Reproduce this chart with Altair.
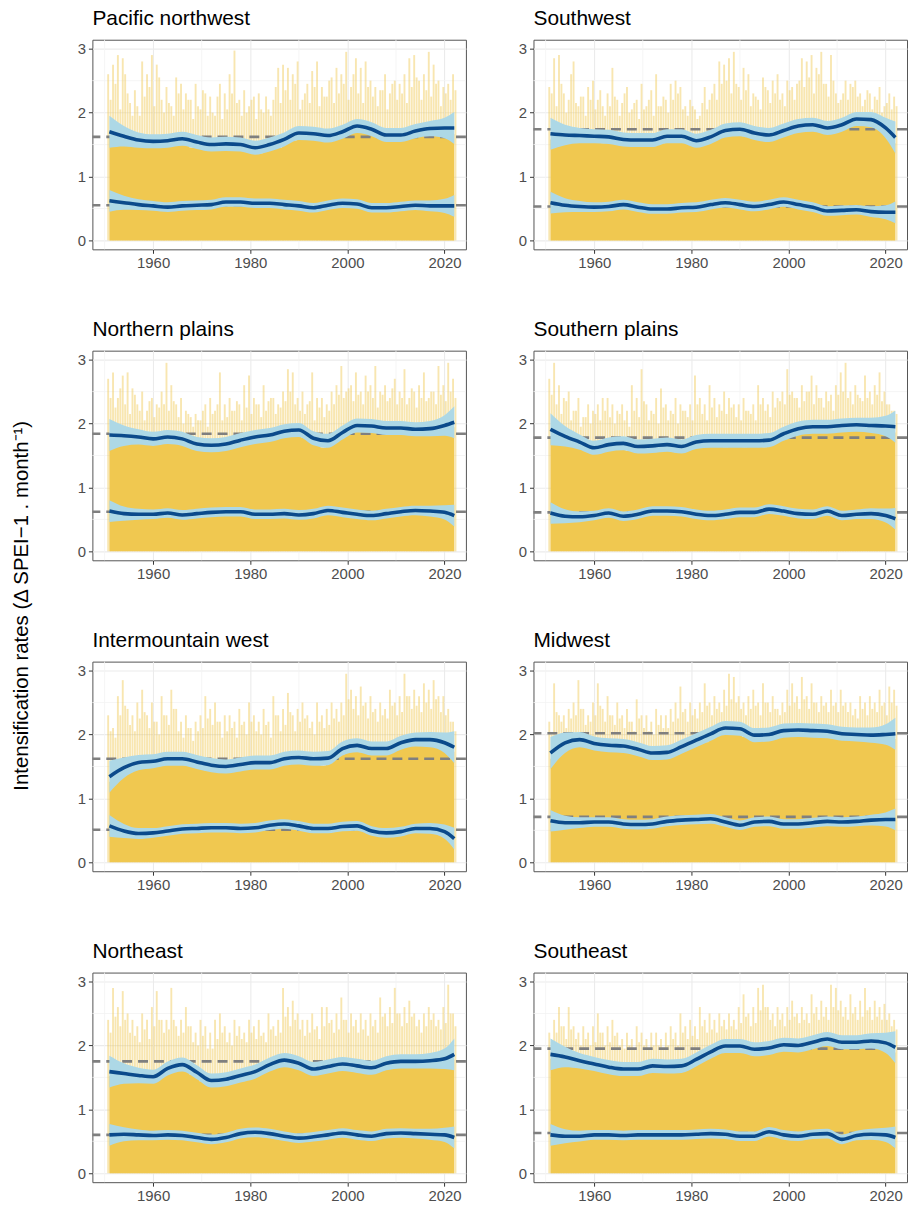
import altair as alt
import pandas as pd

FONT = "Liberation Sans"
YELLOW = "#F0C850"
BAND = "#ADD8E6"
BLUE = "#0B4A8B"
DASH = "#7F7F7F"

Y_TITLE = "Intensification rates (\u0394 SPEI\u22121 . month\u207b\u00b9)"

# Monthly record years and the years at which the smooth curves are listed
YEARS = list(range(1951, 2023))
SMOOTH_YEARS = [1951, 1954, 1957, 1960, 1963, 1966, 1969, 1972, 1975, 1978, 1981, 1984,
                1987, 1990, 1993, 1996, 1999, 2002, 2005, 2008, 2011, 2014, 2017, 2020, 2022]

# Half-width of the confidence ribbons at SMOOTH_YEARS
UPPER_SE = [0.25, 0.16, 0.12, 0.11, 0.11, 0.11, 0.11, 0.11, 0.11, 0.11, 0.11, 0.11, 0.11,
            0.11, 0.11, 0.11, 0.11, 0.11, 0.11, 0.11, 0.11, 0.11, 0.12, 0.16, 0.25]
LOWER_SE = [0.17, 0.11, 0.085, 0.075, 0.075, 0.075, 0.075, 0.075, 0.075, 0.075, 0.075, 0.075,
            0.075, 0.075, 0.075, 0.075, 0.075, 0.075, 0.075, 0.075, 0.075, 0.075, 0.085, 0.11, 0.17]

X_MAJOR = [1960, 1980, 2000, 2020]
X_MINOR = [1950, 1970, 1990, 2010]
Y_MAJOR = [0, 1, 2, 3]
Y_MINOR = [0.5, 1.5, 2.5]

# Per region: first-half-year maxima (H1), second-half-year maxima (H2),
# dense core level (CORE), smoothed upper and lower rates, and the two means.

# ---- Pacific northwest
PNW_H1 = [2.60, 2.75, 2.90, 2.85, 2.30, 1.95, 2.10, 2.80, 2.60, 2.90, 2.75, 2.20,
          2.40, 2.10, 2.55, 2.45, 2.30, 2.20, 2.45, 2.05, 2.30, 2.25, 1.95, 2.45,
          2.30, 2.60, 2.97, 2.20, 2.35, 2.10, 2.25, 2.30, 2.00, 2.05, 2.20, 2.70,
          2.75, 2.70, 2.60, 2.80, 2.20, 2.45, 2.65, 2.80, 2.40, 2.25, 2.55, 2.70,
          2.60, 2.95, 2.40, 2.85, 2.70, 2.80, 2.50, 2.40, 2.35, 2.60, 2.30, 2.50,
          2.45, 2.60, 2.85, 2.90, 2.50, 2.60, 2.95, 2.75, 2.50, 2.40, 2.45, 2.60]
PNW_H2 = [2.20, 2.45, 2.05, 2.60, 2.15, 2.35, 1.95, 2.25, 2.40, 2.10, 2.55, 2.00,
          2.15, 1.95, 2.30, 2.05, 2.20, 1.90, 2.10, 2.35, 1.95, 2.00, 2.25, 1.90,
          2.05, 2.30, 2.15, 1.95, 2.00, 2.20, 1.90, 2.05, 2.25, 1.95, 2.40, 2.15,
          2.35, 2.20, 2.45, 2.05, 2.30, 2.15, 2.40, 2.10, 2.25, 2.50, 2.15, 2.30,
          2.45, 2.20, 2.60, 2.30, 2.15, 2.40, 2.25, 2.10, 2.35, 2.05, 2.45, 2.20,
          2.30, 2.15, 2.40, 2.55, 2.20, 2.35, 2.25, 2.45, 2.10, 2.30, 2.20, 2.35]
PNW_CORE = [1.60, 1.62, 1.56, 1.55, 1.52, 1.54, 1.48, 1.50, 1.46, 1.48, 1.45, 1.50,
            1.47, 1.50, 1.52, 1.50, 1.49, 1.45, 1.47, 1.43, 1.44, 1.40, 1.43, 1.42,
            1.44, 1.42, 1.45, 1.41, 1.40, 1.37, 1.38, 1.36, 1.40, 1.41, 1.46, 1.45,
            1.50, 1.55, 1.56, 1.60, 1.62, 1.58, 1.60, 1.56, 1.57, 1.55, 1.58, 1.60,
            1.62, 1.66, 1.68, 1.72, 1.70, 1.68, 1.66, 1.62, 1.60, 1.56, 1.57, 1.55,
            1.58, 1.58, 1.62, 1.62, 1.66, 1.65, 1.68, 1.66, 1.69, 1.67, 1.68, 1.66]
PNW_UPPER = [1.70, 1.63, 1.57, 1.55, 1.56, 1.59, 1.54, 1.50, 1.51, 1.50, 1.45, 1.50, 1.58,
             1.68, 1.67, 1.64, 1.70, 1.79, 1.74, 1.65, 1.65, 1.71, 1.75, 1.76, 1.76]
PNW_LOWER = [0.62, 0.59, 0.56, 0.54, 0.52, 0.54, 0.55, 0.56, 0.60, 0.60, 0.58, 0.58, 0.56,
             0.54, 0.51, 0.55, 0.58, 0.57, 0.51, 0.51, 0.53, 0.55, 0.54, 0.54, 0.54]
PNW_MEANS = [1.62, 0.55]

# ---- Southwest
SW_H1 = [2.40, 2.85, 2.90, 2.30, 2.20, 2.80, 2.10, 2.25, 2.40, 2.50, 2.20, 2.10,
         2.30, 2.70, 2.20, 2.15, 2.40, 2.05, 2.20, 2.45, 2.10, 2.35, 2.60, 2.10,
         2.20, 2.45, 2.50, 2.40, 2.10, 2.20, 2.05, 1.95, 2.40, 2.20, 2.45, 2.80,
         2.75, 2.85, 2.95, 2.40, 2.70, 2.60, 2.30, 2.20, 2.55, 2.35, 2.50, 2.60,
         2.30, 2.50, 2.40, 2.45, 2.85, 2.80, 2.90, 2.70, 2.95, 2.45, 2.90, 2.30,
         2.20, 2.50, 2.45, 2.50, 2.30, 2.20, 2.30, 2.25, 2.40, 2.10, 2.30, 2.25]
SW_H2 = [2.30, 2.10, 2.45, 2.00, 2.60, 2.15, 2.25, 1.95, 2.20, 2.05, 2.35, 1.95,
         2.10, 2.25, 1.95, 2.30, 2.00, 2.15, 1.90, 2.05, 2.20, 1.95, 2.10, 2.25,
         2.00, 2.20, 2.30, 2.05, 1.95, 2.10, 1.90, 2.15, 2.05, 2.30, 2.20, 2.45,
         2.50, 2.30, 2.45, 2.20, 2.35, 2.10, 2.25, 2.05, 2.40, 2.15, 2.30, 2.20,
         2.10, 2.35, 2.20, 2.50, 2.40, 2.55, 2.30, 2.60, 2.45, 2.25, 2.50, 2.15,
         2.30, 2.20, 2.40, 2.25, 2.10, 2.35, 2.05, 2.20, 2.00, 2.15, 2.05, 2.10]
SW_CORE = [1.58, 1.60, 1.57, 1.58, 1.55, 1.58, 1.54, 1.57, 1.53, 1.56, 1.54, 1.52,
           1.55, 1.51, 1.52, 1.49, 1.52, 1.48, 1.50, 1.47, 1.50, 1.48, 1.52, 1.52,
           1.56, 1.57, 1.58, 1.54, 1.53, 1.50, 1.48, 1.49, 1.50, 1.55, 1.57, 1.62,
           1.64, 1.68, 1.65, 1.67, 1.63, 1.64, 1.60, 1.59, 1.57, 1.58, 1.58, 1.63,
           1.64, 1.68, 1.69, 1.72, 1.72, 1.75, 1.73, 1.72, 1.69, 1.70, 1.69, 1.72,
           1.73, 1.78, 1.80, 1.84, 1.83, 1.84, 1.80, 1.78, 1.72, 1.68, 1.60, 1.52]
SW_UPPER = [1.67, 1.65, 1.64, 1.63, 1.62, 1.58, 1.57, 1.57, 1.63, 1.63, 1.56, 1.62, 1.72,
            1.74, 1.68, 1.65, 1.72, 1.79, 1.81, 1.76, 1.81, 1.90, 1.89, 1.76, 1.61]
SW_LOWER = [0.59, 0.55, 0.53, 0.52, 0.53, 0.56, 0.52, 0.49, 0.49, 0.51, 0.52, 0.56, 0.59,
            0.56, 0.53, 0.56, 0.60, 0.56, 0.52, 0.46, 0.47, 0.48, 0.45, 0.44, 0.44]
SW_MEANS = [1.74, 0.53]

# ---- Northern plains
NP_H1 = [2.70, 2.80, 2.40, 2.75, 2.80, 2.55, 2.30, 2.50, 2.20, 2.40, 2.30, 2.50,
         2.95, 2.60, 2.30, 2.40, 2.20, 2.10, 2.15, 2.05, 2.30, 2.40, 2.20, 2.80,
         2.30, 2.40, 2.20, 2.30, 2.60, 2.75, 2.40, 2.30, 2.60, 2.35, 2.40, 2.30,
         2.50, 2.85, 2.80, 2.40, 2.50, 2.30, 2.80, 2.40, 2.40, 2.30, 2.50, 2.60,
         2.90, 2.50, 2.60, 2.80, 2.50, 2.75, 2.60, 2.90, 2.50, 2.60, 2.40, 2.70,
         2.50, 2.85, 2.40, 2.50, 2.60, 2.80, 2.40, 2.50, 2.90, 2.60, 2.95, 2.70]
NP_H2 = [2.40, 2.25, 2.55, 2.30, 2.15, 2.45, 2.20, 2.05, 2.35, 2.10, 2.25, 2.30,
         2.20, 2.35, 2.10, 2.00, 2.15, 1.95, 2.05, 2.20, 1.95, 2.15, 2.30, 2.05,
         2.10, 2.20, 2.35, 2.05, 2.25, 2.15, 2.30, 2.10, 2.20, 2.40, 2.15, 2.25,
         2.35, 2.50, 2.30, 2.20, 2.15, 2.35, 2.05, 2.25, 2.10, 2.20, 2.30, 2.45,
         2.40, 2.55, 2.35, 2.45, 2.30, 2.50, 2.40, 2.25, 2.45, 2.35, 2.55, 2.30,
         2.40, 2.30, 2.55, 2.25, 2.40, 2.35, 2.50, 2.30, 2.45, 2.35, 2.50, 2.40]
NP_CORE = [1.75, 1.73, 1.76, 1.72, 1.74, 1.71, 1.73, 1.70, 1.71, 1.68, 1.70, 1.73,
           1.71, 1.72, 1.69, 1.70, 1.65, 1.63, 1.60, 1.61, 1.58, 1.60, 1.57, 1.61,
           1.60, 1.64, 1.63, 1.68, 1.67, 1.72, 1.70, 1.74, 1.72, 1.76, 1.75, 1.80,
           1.80, 1.84, 1.83, 1.85, 1.78, 1.75, 1.69, 1.67, 1.62, 1.66, 1.68, 1.75,
           1.78, 1.85, 1.86, 1.91, 1.89, 1.91, 1.87, 1.88, 1.85, 1.87, 1.86, 1.87,
           1.85, 1.86, 1.83, 1.85, 1.83, 1.85, 1.84, 1.87, 1.86, 1.90, 1.90, 1.94]
NP_UPPER = [1.82, 1.81, 1.79, 1.76, 1.79, 1.76, 1.68, 1.66, 1.68, 1.74, 1.79, 1.82, 1.88,
            1.90, 1.77, 1.73, 1.86, 1.97, 1.96, 1.93, 1.93, 1.91, 1.92, 1.97, 2.02]
NP_LOWER = [0.63, 0.59, 0.58, 0.58, 0.60, 0.57, 0.59, 0.61, 0.62, 0.62, 0.58, 0.58, 0.59,
            0.57, 0.59, 0.64, 0.61, 0.58, 0.56, 0.59, 0.62, 0.64, 0.63, 0.61, 0.56]
NP_MEANS = [1.84, 0.62]

# ---- Southern plains
SP_H1 = [2.70, 2.95, 2.60, 2.40, 2.50, 2.20, 2.40, 2.10, 2.30, 2.20, 2.30, 2.40,
         2.40, 2.30, 2.20, 2.30, 2.20, 2.60, 2.40, 2.85, 2.30, 2.20, 2.40, 2.55,
         2.30, 2.20, 2.40, 2.30, 2.20, 2.30, 2.75, 2.40, 2.30, 2.60, 2.40, 2.30,
         2.50, 2.40, 2.30, 2.30, 2.40, 2.20, 2.30, 2.60, 2.40, 2.30, 2.50, 2.40,
         2.50, 2.85, 2.50, 2.40, 2.60, 2.50, 2.75, 2.60, 2.40, 2.50, 2.45, 2.60,
         2.80, 2.95, 2.50, 2.60, 2.40, 2.75, 2.50, 2.60, 2.80, 2.50, 2.30, 2.20]
SP_H2 = [2.45, 2.30, 2.15, 2.35, 2.05, 2.20, 1.95, 2.10, 2.00, 2.15, 2.05, 2.20,
         2.10, 2.00, 2.15, 2.05, 1.95, 2.20, 2.10, 2.35, 2.05, 2.15, 2.00, 2.25,
         2.05, 2.15, 2.00, 2.20, 2.10, 2.05, 2.30, 2.15, 2.05, 2.25, 2.10, 2.20,
         2.15, 2.25, 2.10, 2.05, 2.20, 2.15, 2.05, 2.30, 2.20, 2.10, 2.25, 2.35,
         2.30, 2.45, 2.40, 2.25, 2.35, 2.50, 2.30, 2.40, 2.25, 2.35, 2.20, 2.45,
         2.50, 2.40, 2.30, 2.45, 2.35, 2.40, 2.30, 2.45, 2.35, 2.30, 2.20, 2.15]
SP_CORE = [1.80, 1.79, 1.74, 1.73, 1.68, 1.67, 1.62, 1.60, 1.55, 1.56, 1.55, 1.59,
           1.58, 1.62, 1.61, 1.62, 1.57, 1.58, 1.55, 1.57, 1.56, 1.59, 1.57, 1.60,
           1.58, 1.59, 1.55, 1.57, 1.58, 1.62, 1.62, 1.65, 1.64, 1.66, 1.64, 1.66,
           1.63, 1.66, 1.64, 1.66, 1.63, 1.65, 1.64, 1.66, 1.63, 1.67, 1.69, 1.73,
           1.75, 1.80, 1.81, 1.85, 1.86, 1.88, 1.87, 1.86, 1.87, 1.88, 1.88, 1.90,
           1.89, 1.91, 1.90, 1.91, 1.89, 1.90, 1.89, 1.90, 1.88, 1.89, 1.87, 1.86]
SP_UPPER = [1.91, 1.80, 1.71, 1.62, 1.67, 1.69, 1.64, 1.65, 1.67, 1.64, 1.71, 1.73, 1.73,
            1.73, 1.73, 1.74, 1.84, 1.92, 1.95, 1.95, 1.97, 1.98, 1.97, 1.96, 1.95]
SP_LOWER = [0.60, 0.55, 0.54, 0.56, 0.60, 0.55, 0.58, 0.63, 0.63, 0.62, 0.58, 0.56, 0.58,
            0.61, 0.61, 0.66, 0.63, 0.59, 0.58, 0.63, 0.56, 0.58, 0.59, 0.56, 0.51]
SP_MEANS = [1.78, 0.61]

# ---- Intermountain west
IW_H1 = [2.30, 2.10, 2.60, 2.85, 2.40, 2.30, 2.50, 2.70, 2.30, 2.50, 2.20, 2.60,
         2.30, 2.70, 2.40, 2.20, 2.30, 2.10, 2.20, 2.30, 2.60, 2.40, 2.50, 2.20,
         2.30, 2.30, 2.20, 2.40, 2.20, 2.50, 2.30, 2.20, 2.40, 2.20, 2.60, 2.30,
         2.40, 2.65, 2.30, 2.40, 2.50, 2.30, 2.20, 2.50, 2.30, 2.40, 2.50, 2.40,
         2.50, 2.95, 2.70, 2.60, 2.75, 2.50, 2.60, 2.40, 2.50, 2.40, 2.70, 2.50,
         2.60, 2.95, 2.60, 2.70, 2.60, 2.80, 2.70, 2.85, 2.60, 2.60, 2.40, 2.20]
IW_H2 = [2.05, 1.95, 2.30, 2.45, 2.15, 2.05, 2.25, 2.35, 2.10, 2.20, 2.00, 2.30,
         2.15, 2.40, 2.05, 1.95, 2.10, 1.90, 2.05, 2.10, 2.25, 2.15, 2.20, 1.95,
         2.05, 2.10, 1.95, 2.15, 2.00, 2.20, 2.05, 2.00, 2.15, 1.95, 2.30, 2.05,
         2.15, 2.35, 2.05, 2.20, 2.25, 2.10, 2.00, 2.20, 2.10, 2.15, 2.25, 2.20,
         2.30, 2.55, 2.40, 2.30, 2.45, 2.25, 2.35, 2.20, 2.30, 2.25, 2.45, 2.30,
         2.35, 2.60, 2.40, 2.45, 2.35, 2.50, 2.40, 2.55, 2.35, 2.30, 2.20, 2.05]
IW_CORE = [1.26, 1.32, 1.35, 1.41, 1.43, 1.47, 1.48, 1.50, 1.49, 1.52, 1.51, 1.54,
           1.53, 1.56, 1.54, 1.55, 1.51, 1.51, 1.48, 1.48, 1.44, 1.45, 1.42, 1.44,
           1.42, 1.45, 1.43, 1.47, 1.45, 1.49, 1.47, 1.50, 1.47, 1.50, 1.49, 1.54,
           1.53, 1.57, 1.55, 1.58, 1.54, 1.56, 1.53, 1.55, 1.51, 1.56, 1.61, 1.68,
           1.69, 1.75, 1.74, 1.77, 1.72, 1.73, 1.69, 1.70, 1.68, 1.72, 1.72, 1.78,
           1.78, 1.83, 1.82, 1.86, 1.84, 1.87, 1.83, 1.85, 1.80, 1.81, 1.75, 1.73]
IW_UPPER = [1.34, 1.48, 1.56, 1.58, 1.62, 1.62, 1.57, 1.52, 1.50, 1.53, 1.56, 1.56, 1.62,
            1.64, 1.62, 1.63, 1.78, 1.83, 1.78, 1.78, 1.87, 1.92, 1.92, 1.87, 1.80]
IW_LOWER = [0.57, 0.49, 0.45, 0.46, 0.49, 0.52, 0.53, 0.54, 0.54, 0.53, 0.54, 0.58, 0.60,
            0.57, 0.53, 0.53, 0.56, 0.57, 0.49, 0.46, 0.48, 0.53, 0.53, 0.48, 0.37]
IW_MEANS = [1.62, 0.51]

# ---- Midwest
MW_H1 = [2.20, 2.80, 2.30, 2.30, 2.40, 2.50, 2.85, 2.40, 2.30, 2.50, 2.80, 2.40,
         2.60, 2.30, 2.50, 2.30, 2.40, 2.20, 2.55, 2.30, 2.30, 2.20, 2.40, 2.30,
         2.30, 2.40, 2.50, 2.75, 2.40, 2.50, 2.40, 2.50, 2.80, 2.50, 2.60, 2.50,
         2.70, 2.95, 2.90, 2.60, 2.50, 2.60, 2.70, 2.50, 2.80, 2.50, 2.60, 2.40,
         2.50, 2.70, 2.80, 2.60, 2.90, 2.60, 2.80, 2.50, 2.60, 2.50, 2.70, 2.50,
         2.70, 2.50, 2.50, 2.40, 2.60, 2.50, 2.60, 2.50, 2.70, 2.50, 2.75, 2.70]
MW_H2 = [2.00, 2.35, 2.20, 2.10, 2.25, 2.30, 2.40, 2.15, 2.20, 2.30, 2.45, 2.20,
         2.30, 2.15, 2.25, 2.10, 2.20, 2.05, 2.25, 2.10, 2.05, 2.00, 2.15, 2.10,
         2.10, 2.20, 2.25, 2.35, 2.20, 2.30, 2.25, 2.35, 2.45, 2.30, 2.40, 2.35,
         2.45, 2.55, 2.50, 2.40, 2.30, 2.40, 2.45, 2.30, 2.50, 2.35, 2.40, 2.30,
         2.35, 2.45, 2.50, 2.40, 2.55, 2.40, 2.50, 2.35, 2.45, 2.35, 2.45, 2.35,
         2.45, 2.35, 2.30, 2.25, 2.40, 2.30, 2.40, 2.35, 2.45, 2.30, 2.50, 2.45]
MW_CORE = [1.62, 1.70, 1.74, 1.80, 1.81, 1.85, 1.83, 1.84, 1.80, 1.80, 1.76, 1.78,
           1.74, 1.76, 1.73, 1.76, 1.71, 1.73, 1.68, 1.69, 1.64, 1.65, 1.62, 1.65,
           1.63, 1.68, 1.68, 1.75, 1.76, 1.82, 1.82, 1.88, 1.88, 1.95, 1.96, 2.02,
           2.01, 2.05, 2.01, 2.03, 1.96, 1.95, 1.90, 1.93, 1.90, 1.94, 1.93, 1.98,
           1.97, 2.01, 1.98, 2.01, 1.98, 2.00, 1.97, 2.00, 1.96, 1.99, 1.94, 1.96,
           1.92, 1.95, 1.91, 1.94, 1.90, 1.93, 1.90, 1.93, 1.91, 1.94, 1.91, 1.93]
MW_UPPER = [1.71, 1.87, 1.92, 1.86, 1.83, 1.82, 1.77, 1.71, 1.72, 1.81, 1.91, 2.01, 2.10,
            2.09, 1.99, 2.00, 2.06, 2.07, 2.06, 2.05, 2.01, 2.00, 1.99, 2.00, 2.01]
MW_LOWER = [0.65, 0.62, 0.62, 0.63, 0.63, 0.60, 0.59, 0.60, 0.64, 0.66, 0.67, 0.68, 0.63,
            0.58, 0.63, 0.64, 0.60, 0.60, 0.62, 0.64, 0.63, 0.64, 0.66, 0.67, 0.67]
MW_MEANS = [2.02, 0.71]

# ---- Northeast
NE_H1 = [2.40, 2.90, 2.60, 2.85, 2.50, 2.40, 2.30, 2.50, 2.40, 2.60, 2.85, 2.40,
         2.40, 2.90, 2.30, 2.40, 2.60, 2.30, 2.20, 2.40, 2.30, 2.20, 2.40, 2.50,
         2.30, 2.20, 2.40, 2.30, 2.20, 2.40, 2.30, 2.40, 2.20, 2.50, 2.30, 2.40,
         2.90, 2.60, 2.70, 2.50, 2.40, 2.40, 2.50, 2.30, 2.60, 2.60, 2.40, 2.50,
         2.75, 2.40, 2.50, 2.40, 2.50, 2.40, 2.50, 2.40, 2.75, 2.50, 2.60, 2.90,
         2.50, 2.60, 2.70, 2.50, 2.40, 2.50, 2.60, 2.50, 2.40, 2.60, 2.95, 2.50]
NE_H2 = [2.20, 2.45, 2.30, 2.40, 2.20, 2.15, 2.05, 2.25, 2.10, 2.30, 2.40, 2.20,
         2.25, 2.40, 2.15, 2.20, 2.30, 2.05, 2.00, 2.15, 1.95, 1.95, 2.10, 2.20,
         2.05, 2.00, 2.15, 2.10, 2.05, 2.20, 2.10, 2.15, 2.05, 2.25, 2.15, 2.20,
         2.45, 2.30, 2.40, 2.25, 2.15, 2.20, 2.25, 2.10, 2.30, 2.35, 2.20, 2.25,
         2.40, 2.20, 2.30, 2.20, 2.25, 2.15, 2.30, 2.20, 2.45, 2.30, 2.35, 2.50,
         2.30, 2.35, 2.45, 2.30, 2.20, 2.30, 2.40, 2.30, 2.25, 2.35, 2.50, 2.30]
NE_CORE = [1.52, 1.50, 1.51, 1.48, 1.49, 1.46, 1.47, 1.44, 1.45, 1.43, 1.48, 1.52,
           1.57, 1.60, 1.63, 1.62, 1.60, 1.54, 1.52, 1.44, 1.42, 1.37, 1.39, 1.38,
           1.41, 1.41, 1.45, 1.45, 1.49, 1.49, 1.53, 1.55, 1.60, 1.62, 1.67, 1.67,
           1.71, 1.68, 1.68, 1.64, 1.63, 1.58, 1.57, 1.56, 1.60, 1.59, 1.63, 1.62,
           1.65, 1.62, 1.63, 1.60, 1.61, 1.58, 1.59, 1.59, 1.64, 1.64, 1.67, 1.66,
           1.69, 1.67, 1.69, 1.67, 1.69, 1.68, 1.70, 1.69, 1.72, 1.71, 1.76, 1.78]
NE_UPPER = [1.59, 1.56, 1.53, 1.51, 1.64, 1.70, 1.58, 1.45, 1.47, 1.53, 1.59, 1.70, 1.77,
            1.72, 1.63, 1.67, 1.71, 1.68, 1.65, 1.72, 1.75, 1.75, 1.76, 1.79, 1.86]
NE_LOWER = [0.60, 0.61, 0.60, 0.59, 0.60, 0.59, 0.56, 0.53, 0.56, 0.62, 0.64, 0.62, 0.58,
            0.55, 0.57, 0.60, 0.63, 0.60, 0.58, 0.62, 0.63, 0.62, 0.61, 0.60, 0.56]
NE_MEANS = [1.75, 0.60]

# ---- Southeast
SE_H1 = [2.20, 2.40, 2.60, 2.30, 2.60, 2.30, 2.20, 2.30, 2.20, 2.30, 2.50, 2.20,
         2.30, 2.40, 2.20, 2.10, 2.20, 2.10, 2.30, 2.20, 2.10, 2.20, 2.20, 2.10,
         2.20, 2.30, 2.20, 2.50, 2.30, 2.40, 2.30, 2.60, 2.40, 2.50, 2.40, 2.50,
         2.40, 2.50, 2.40, 2.60, 2.80, 2.50, 2.60, 2.90, 2.95, 2.60, 2.50, 2.60,
         2.50, 2.60, 2.70, 2.50, 2.60, 2.50, 2.80, 2.60, 2.70, 2.60, 2.95, 2.90,
         2.70, 2.60, 2.80, 2.60, 2.70, 2.90, 2.60, 2.70, 2.60, 2.65, 2.50, 2.40]
SE_H2 = [2.05, 2.20, 2.30, 2.10, 2.25, 2.10, 2.00, 2.10, 2.00, 2.05, 2.20, 2.00,
         2.05, 2.15, 2.00, 1.95, 2.00, 1.95, 2.05, 2.00, 1.95, 2.00, 2.00, 1.95,
         2.00, 2.10, 2.00, 2.20, 2.10, 2.15, 2.10, 2.30, 2.20, 2.25, 2.20, 2.30,
         2.25, 2.30, 2.25, 2.35, 2.45, 2.30, 2.35, 2.55, 2.60, 2.40, 2.30, 2.40,
         2.30, 2.40, 2.45, 2.35, 2.40, 2.35, 2.50, 2.40, 2.45, 2.40, 2.60, 2.55,
         2.45, 2.40, 2.50, 2.40, 2.45, 2.55, 2.40, 2.45, 2.40, 2.40, 2.30, 2.25]
SE_CORE = [1.79, 1.76, 1.77, 1.73, 1.74, 1.70, 1.70, 1.66, 1.67, 1.63, 1.63, 1.60,
           1.60, 1.57, 1.58, 1.55, 1.56, 1.54, 1.57, 1.57, 1.61, 1.60, 1.62, 1.59,
           1.61, 1.59, 1.61, 1.60, 1.65, 1.66, 1.72, 1.74, 1.80, 1.82, 1.88, 1.89,
           1.93, 1.92, 1.94, 1.91, 1.91, 1.87, 1.88, 1.86, 1.89, 1.88, 1.92, 1.92,
           1.95, 1.93, 1.94, 1.92, 1.96, 1.96, 1.99, 1.99, 2.03, 2.02, 2.03, 1.99,
           1.99, 1.96, 1.98, 1.97, 2.00, 1.99, 2.01, 1.99, 2.00, 1.96, 1.95, 1.89]
SE_UPPER = [1.86, 1.82, 1.76, 1.71, 1.66, 1.63, 1.63, 1.68, 1.67, 1.68, 1.78, 1.90, 1.99,
            1.99, 1.94, 1.96, 2.01, 2.00, 2.05, 2.10, 2.05, 2.05, 2.07, 2.04, 1.97]
SE_LOWER = [0.60, 0.58, 0.58, 0.60, 0.60, 0.59, 0.60, 0.60, 0.60, 0.60, 0.61, 0.62, 0.61,
            0.58, 0.58, 0.65, 0.60, 0.58, 0.61, 0.62, 0.53, 0.59, 0.61, 0.60, 0.56]
SE_MEANS = [1.95, 0.63]

REGIONS = [
    ("Pacific northwest", PNW_H1, PNW_H2, PNW_CORE, PNW_UPPER, PNW_LOWER, PNW_MEANS),
    ("Southwest", SW_H1, SW_H2, SW_CORE, SW_UPPER, SW_LOWER, SW_MEANS),
    ("Northern plains", NP_H1, NP_H2, NP_CORE, NP_UPPER, NP_LOWER, NP_MEANS),
    ("Southern plains", SP_H1, SP_H2, SP_CORE, SP_UPPER, SP_LOWER, SP_MEANS),
    ("Intermountain west", IW_H1, IW_H2, IW_CORE, IW_UPPER, IW_LOWER, IW_MEANS),
    ("Midwest", MW_H1, MW_H2, MW_CORE, MW_UPPER, MW_LOWER, MW_MEANS),
    ("Northeast", NE_H1, NE_H2, NE_CORE, NE_UPPER, NE_LOWER, NE_MEANS),
    ("Southeast", SE_H1, SE_H2, SE_CORE, SE_UPPER, SE_LOWER, SE_MEANS),
]

PANEL_W = 376
PANEL_H = 211

x_scale = alt.Scale(domain=[1947.5, 2024.4], nice=False, zero=False)
y_scale = alt.Scale(domain=[-0.14, 3.14], nice=False, zero=False)
x_axis = alt.Axis(values=X_MAJOR, format="d", title=None, domain=False, grid=True,
                  gridColor="#EBEBEB", gridWidth=1.1, tickColor="#333333", tickSize=4,
                  labelColor="#4D4D4D", labelFont=FONT, labelFontSize=15, labelPadding=2)
y_axis = alt.Axis(values=Y_MAJOR, format="d", title=None, domain=False, grid=True,
                  gridColor="#EBEBEB", gridWidth=1.1, tickColor="#333333", tickSize=4,
                  labelColor="#4D4D4D", labelFont=FONT, labelFontSize=15, labelPadding=3)


def X(field):
    return alt.X(field, type="quantitative", scale=x_scale, axis=x_axis)


def Y(field):
    return alt.Y(field, type="quantitative", scale=y_scale, axis=y_axis)


def panel(name, h1, h2, core, upper, lower, means):
    yearly = pd.DataFrame({"year": YEARS, "h1": h1, "h2": h2, "core": core})
    smooth = pd.DataFrame({"year": SMOOTH_YEARS, "up": upper, "lo": lower,
                           "up_se": UPPER_SE, "lo_se": LOWER_SE})

    minor_x = alt.Chart(pd.DataFrame({"v": X_MINOR})).mark_rule(
        color="#F3F3F3", strokeWidth=0.8).encode(x=X("v"))
    minor_y = alt.Chart(pd.DataFrame({"v": Y_MINOR})).mark_rule(
        color="#F3F3F3", strokeWidth=0.8).encode(y=Y("v"))

    # half-year maxima rise well above the dense core of monthly rates
    spikes_h1 = alt.Chart(yearly).transform_calculate(t="datum.year - 0.25").mark_rule(
        color=YELLOW, opacity=0.45, strokeWidth=1.9).encode(
        x=X("t"), y=Y("h1"), y2=alt.datum(0))
    spikes_h2 = alt.Chart(yearly).transform_calculate(t="datum.year + 0.25").mark_rule(
        color=YELLOW, opacity=0.45, strokeWidth=1.9).encode(
        x=X("t"), y=Y("h2"), y2=alt.datum(0))

    core_area = alt.Chart(yearly).mark_area(
        color=YELLOW, opacity=1, interpolate="step").encode(
        x=X("year"), y=Y("core"), y2=alt.datum(0))

    mean_lines = alt.Chart(pd.DataFrame({"m": means})).mark_rule(
        color=DASH, strokeDash=[10, 6], strokeWidth=2.6).encode(y=Y("m"))

    ribbons = []
    for key, se in (("up", "up_se"), ("lo", "lo_se")):
        base = alt.Chart(smooth).transform_calculate(
            ymin=f"datum.{key} - datum.{se}", ymax=f"datum.{key} + datum.{se}")
        ribbons.append(base.mark_area(color=BAND, opacity=1, interpolate="monotone").encode(
            x=X("year"), y=Y("ymin"), y2="ymax:Q"))
    curves = [
        alt.Chart(smooth).mark_line(color=BLUE, strokeWidth=3.6, interpolate="monotone").encode(
            x=X("year"), y=Y(key))
        for key in ("up", "lo")
    ]

    return alt.layer(minor_x, minor_y, spikes_h1, spikes_h2, core_area, mean_lines,
                     *ribbons, *curves).properties(
        width=PANEL_W, height=PANEL_H,
        title=alt.TitleParams(name, anchor="start", frame="group", fontSize=21, font=FONT,
                              fontWeight="normal", color="black", offset=10),
    )


panels = [panel(*r) for r in REGIONS]
rows = [alt.hconcat(panels[i], panels[i + 1], spacing=50) for i in range(0, 8, 2)]

chart = alt.vconcat(*rows, spacing=48).properties(
    title=alt.TitleParams(Y_TITLE, orient="left", anchor="middle", fontSize=20.5,
                          font=FONT, fontWeight="normal", color="black", offset=44),
    padding={"left": 12, "top": 4, "right": 0, "bottom": 0},
).configure_view(stroke="#555555", strokeWidth=1)

chart.save("out.html", embed_options={"renderer": "svg", "actions": False})
